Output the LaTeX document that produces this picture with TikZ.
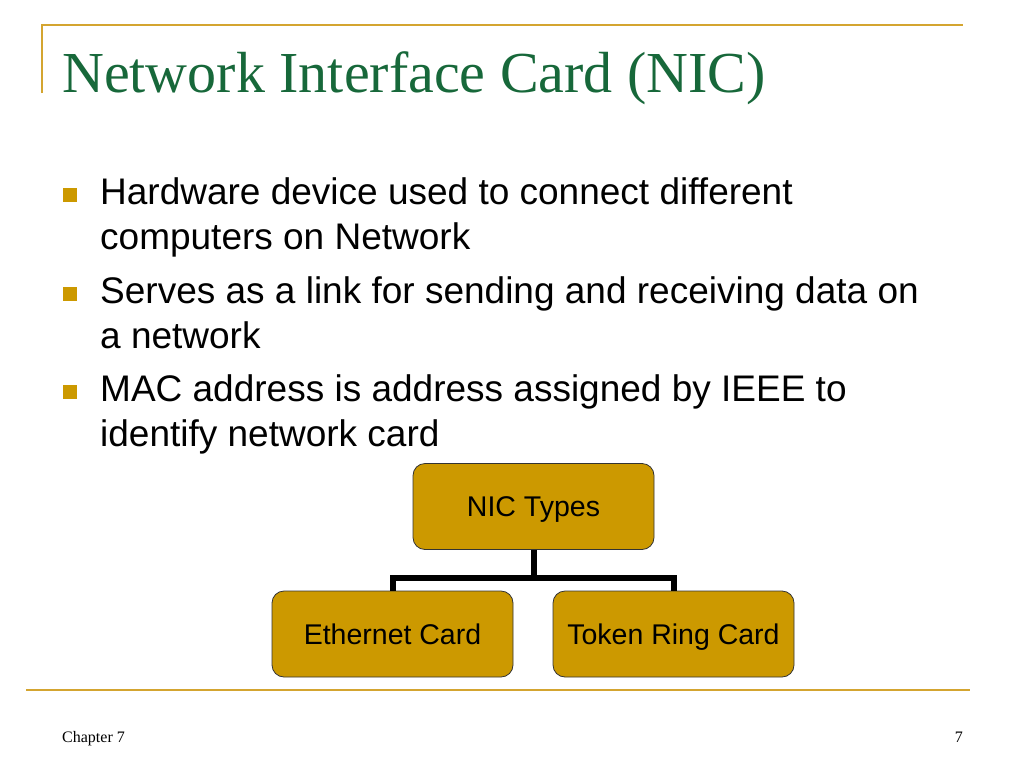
\documentclass[tikz,border=0pt]{standalone}
\usepackage{fontspec}
\setmainfont{Liberation Serif}
\newfontfamily\arialf{Liberation Sans}
\definecolor{gold}{HTML}{CC9900}
\definecolor{goldline}{HTML}{D4A530}
\definecolor{titlegreen}{HTML}{17683A}
\begin{document}
\begin{tikzpicture}[x=1pt,y=-1pt,
  cardbox/.style={draw=black!80,line width=0.8pt,fill=gold,rounded corners=12pt,
    minimum width=241pt,minimum height=86pt,inner sep=0pt,text height=20.4pt,text depth=0pt,
    font=\arialf\fontsize{28.5}{32}\selectfont},
  bullettext/.style={anchor=base west,inner sep=0pt,font=\arialf\fontsize{37}{42}\selectfont},
  bulletsq/.style={fill=gold,minimum size=14pt,inner sep=0pt},
  conn/.style={line width=6pt}]
\useasboundingbox (0,0) rectangle (1024,768);
\fill[white] (0,0) rectangle (1024,768);
% frame lines
\draw[goldline,line width=2pt] (42,93) -- (42,25) -- (963,25);
\draw[goldline,line width=2.5pt] (26,690) -- (970,690);
% title
\node[anchor=base west,inner sep=0pt,text=titlegreen,font=\fontsize{58}{64}\selectfont] (title) at (62,92) {Network Interface Card (NIC)};
% bullets
\node[bulletsq] (b1) at (70,195) {};
\node[bulletsq] (b2) at (70,294) {};
\node[bulletsq] (b3) at (70,392) {};
\node[bullettext] (t1a) at (100,204) {Hardware device used to connect different};
\node[bullettext] (t1b) at (100,249) {computers on Network};
\node[bullettext] (t2a) at (100,303) {Serves as a link for sending and receiving data on};
\node[bullettext] (t2b) at (100,348) {a network};
\node[bullettext] (t3a) at (100,401) {MAC address is address assigned by IEEE to};
\node[bullettext] (t3b) at (100,446) {identify network card};
% org chart
\node[cardbox] (nic) at (533.5,506.5) {NIC Types};
\node[cardbox] (eth) at (392.5,634) {Ethernet Card};
\node[cardbox] (tok) at (673.5,634) {Token Ring Card};
\coordinate (mid) at (533.5,578);
\draw[conn] (nic.south) -- (mid);
\draw[conn] (eth.north) |- (mid);
\draw[conn] (tok.north) |- (mid);
% footer
\node[anchor=base west,inner sep=0pt,font=\fontsize{16}{18}\selectfont] (chap) at (62,742) {Chapter 7};
\node[anchor=base east,inner sep=0pt,font=\fontsize{16}{18}\selectfont] (pg) at (963,742) {7};
\end{tikzpicture}
\end{document}
